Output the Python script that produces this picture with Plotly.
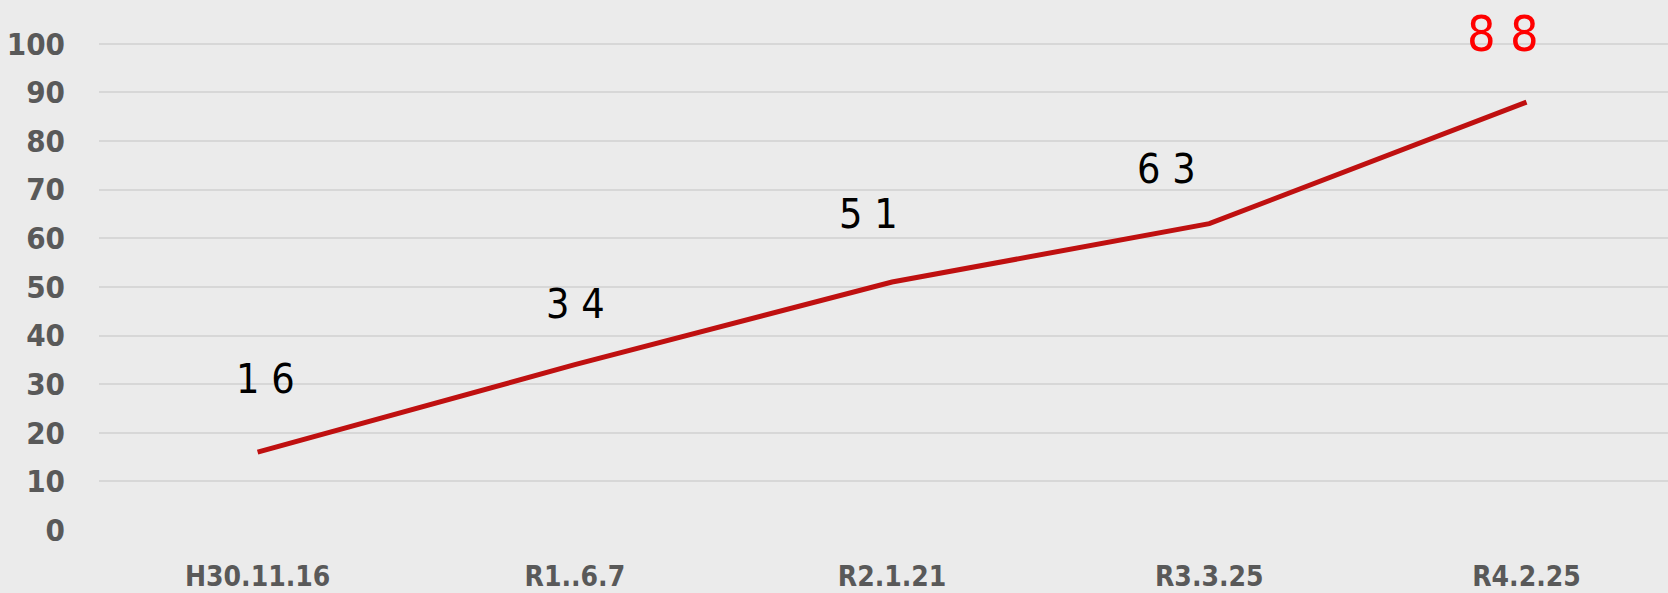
import plotly.graph_objects as go

# data
dates = ["H30.11.16", "R1..6.7", "R2.1.21", "R3.3.25", "R4.2.25"]
counts = [16, 34, 51, 63, 88]
count_labels = ["1 6", "3 4", "5 1", "6 3", "8 8"]
y_ticks = [0, 10, 20, 30, 40, 50, 60, 70, 80, 90, 100]

NARROW = "DejaVu Sans Condensed, Roboto Condensed, Roboto, sans-serif"
GREY = "#595959"

fig = go.Figure()

fig.add_trace(go.Scatter(
    x=dates,
    y=counts,
    mode="lines",
    line=dict(color="#bf1010", width=5),
    hoverinfo="skip",
    showlegend=False,
))

# value labels sit above the line, nudged a bit like in the original slide
shifts = [(8, 73), (1, 61), (-24, 68), (-43, 55), (-24, 68)]
for i, (d, v, txt) in enumerate(zip(dates, counts, count_labels)):
    last = i == len(dates) - 1
    fig.add_annotation(
        x=d, y=v, text=txt, showarrow=False,
        xshift=shifts[i][0], yshift=shifts[i][1],
        font=dict(family=NARROW, size=50 if last else 41,
                  color="#ff0000" if last else "#000000"),
    )

fig.update_layout(
    width=1668, height=593,
    margin=dict(l=99, r=0, t=0, b=63),
    paper_bgcolor="#ebebeb",
    plot_bgcolor="#ebebeb",
    xaxis=dict(
        type="category",
        range=[-0.5, 4.446],
        showgrid=False,
        zeroline=False,
        showline=False,
        ticks="",
        ticklabelstandoff=27,
        tickfont=dict(family=NARROW, size=28, color=GREY, weight="bold"),
    ),
    yaxis=dict(
        range=[0, 109],
        tickvals=y_ticks,
        showgrid=True,
        gridcolor="#d7d7d7",
        gridwidth=2,
        zeroline=False,
        showline=False,
        ticks="",
        ticklabelstandoff=33,
        tickfont=dict(family=NARROW, size=31, color=GREY, weight="bold"),
    ),
)

fig.write_html("out.html", config={"displayModeBar": False},
               post_script="document.body.style.margin='0';")
